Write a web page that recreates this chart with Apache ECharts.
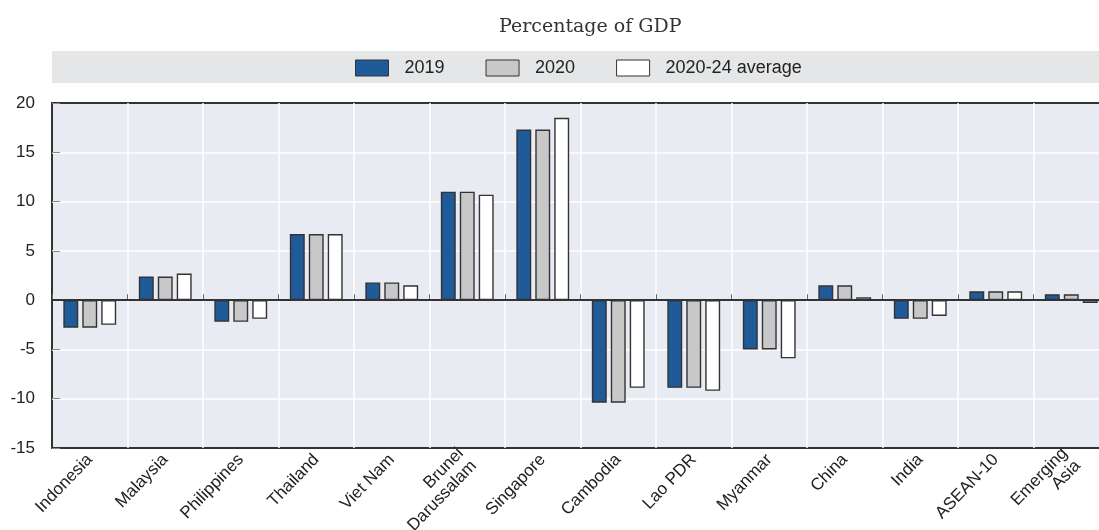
<!DOCTYPE html>
<html>
<head>
<meta charset="utf-8">
<script src="https://cdn.jsdelivr.net/npm/echarts@6/dist/echarts.min.js"></script>
<style>
  html, body { margin: 0; padding: 0; background: #fff; }
  #chart { width: 1099px; height: 530px; }
</style>
</head>
<body>
<div id="chart"></div>
<script>
var countries = ['Indonesia', 'Malaysia', 'Philippines', 'Thailand', 'Viet Nam', 'Brunei\nDarussalam',
  'Singapore', 'Cambodia', 'Lao PDR', 'Myanmar', 'China', 'India', 'ASEAN-10', 'Emerging\nAsia'];
var y2019 = [-2.8, 2.4, -2.2, 6.7, 1.8, 11.0, 17.3, -10.4, -8.9, -5.0, 1.5, -1.9, 0.9, 0.6];
var y2020 = [-2.8, 2.4, -2.2, 6.7, 1.8, 11.0, 17.3, -10.4, -8.9, -5.0, 1.5, -1.9, 0.9, 0.6];
var avg2024 = [-2.5, 2.7, -1.9, 6.7, 1.5, 10.7, 18.5, -8.9, -9.2, -5.9, 0.3, -1.6, 0.9, -0.3];
var yTicks = { min: -15, max: 20, step: 5 };

var FONT = "'Liberation Sans', Arial, sans-serif";

var chartDom = document.getElementById('chart');
var myChart = echarts.init(chartDom);
var option;

function barSeries(name, data, color) {
  return {
    name: name,
    type: 'bar',
    data: data,
    barGap: '27%',
    barCategoryGap: '30%',
    itemStyle: {
      color: color,
      borderColor: '#333',
      borderWidth: 1.4
    }
  };
}

var series = [
  barSeries('2019', y2019, '#1f5a99'),
  barSeries('2020', y2020, '#c8c8c8'),
  barSeries('2020-24 average', avg2024, '#ffffff')
];
// zero line across the plot
series[2].markLine = {
  silent: true,
  symbol: 'none',
  label: { show: false },
  lineStyle: { color: '#333', width: 2, type: 'solid' },
  data: [{ yAxis: 0 }]
};

option = {
  animation: false,
  title: {
    text: 'Percentage of GDP',
    left: 499,
    top: 18,
    padding: 0,
    textStyle: {
      fontFamily: "'DejaVu Serif', serif",
      fontSize: 19,
      fontWeight: 'normal',
      color: '#333'
    }
  },
  graphic: [
    {
      type: 'rect',
      left: 52,
      top: 51,
      shape: { width: 1047, height: 32 },
      style: { fill: '#e5e6e8' },
      z: -1
    }
  ],
  legend: {
    left: 355,
    top: 59,
    padding: 0,
    itemWidth: 33,
    itemHeight: 16,
    itemGap: 41,
    icon: 'rect',
    itemStyle: { borderColor: '#333', borderWidth: 1 },
    textStyle: { fontFamily: FONT, fontSize: 18, color: '#222', padding: [0, 0, 0, 11] }
  },
  grid: {
    left: 52,
    top: 103,
    width: 1057,
    height: 345,
    containLabel: false,
    outerBoundsMode: 'none',
    show: true,
    backgroundColor: '#e9ebf3',
    borderColor: '#333',
    borderWidth: 2
  },
  xAxis: {
    type: 'category',
    data: countries,
    axisLine: { show: false },
    axisTick: { show: true, inside: true, length: 6, lineStyle: { color: '#666' } },
    splitLine: { show: true, showMinLine: false, showMaxLine: false, lineStyle: { color: '#ffffff', width: 1.5 } },
    axisLabel: {
      interval: 0,
      rotate: 46,
      margin: 9,
      fontFamily: FONT,
      fontSize: 17,
      color: '#222',
      lineHeight: 18
    }
  },
  yAxis: {
    type: 'value',
    min: yTicks.min,
    max: yTicks.max,
    interval: yTicks.step,
    axisLine: { show: false },
    axisTick: { show: true, inside: true, length: 8, lineStyle: { color: '#888' } },
    splitLine: { show: true, showMinLine: false, showMaxLine: false, lineStyle: { color: '#ffffff', width: 1.5 } },
    axisLabel: { margin: 17, fontFamily: FONT, fontSize: 17, color: '#222' }
  },
  series: series
};

option && myChart.setOption(option);
</script>
</body>
</html>
